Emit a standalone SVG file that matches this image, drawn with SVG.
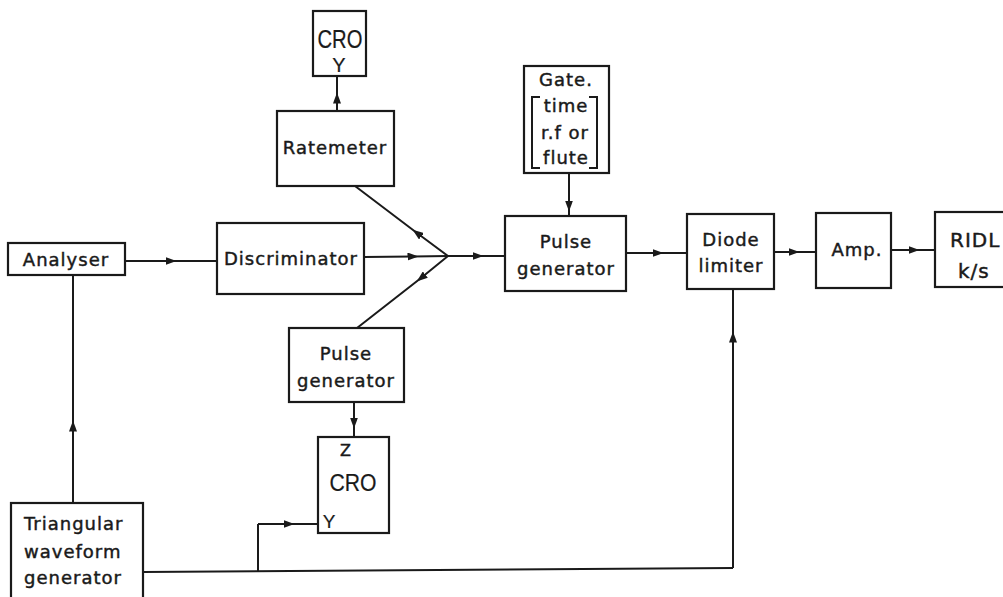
<svg xmlns="http://www.w3.org/2000/svg" width="1003" height="597" viewBox="0 0 1003 597">
<defs>
<marker id="ah" viewBox="0 0 11 8" refX="5.5" refY="4" markerWidth="11" markerHeight="8" markerUnits="userSpaceOnUse" orient="auto">
<path d="M0,0 L11,4 L0,8 z" fill="#1a1a1a"/>
</marker>
<style>
rect.b{fill:none;stroke:#1a1a1a;stroke-width:2.2}
text{font-family:"DejaVu Sans",sans-serif;font-size:18px;fill:#1a1a1a;stroke:#1a1a1a;stroke-width:0.45;text-anchor:middle;letter-spacing:1px}
text.g{font-family:"Liberation Sans",Arial,sans-serif;letter-spacing:0;stroke-width:0.2}
.c path{fill:none;stroke:#1a1a1a;stroke-width:2}
.c path.a{marker-mid:url(#ah)}
.br{fill:none;stroke:#1a1a1a;stroke-width:2}
</style>
</defs>
<rect width="1003" height="597" fill="#fff"/>

<g class="c" id="connectors">
<path class="a" d="M125 261 L171 261 L217 261"/>
<path class="a" d="M364 257 L413 256.5 L448 256"/>
<path class="a" d="M448 256 L478 256 L505 256"/>
<path class="a" d="M448 256 L417 233 L355 186"/>
<path class="a" d="M448 256 L421 278 L357 328"/>
<path class="a" d="M337 111 L337 98 L337 76"/>
<path class="a" d="M354 402 L354 423 L354 437"/>
<path class="a" d="M569 173 L569 206 L569 216"/>
<path class="a" d="M626 253 L658 253 L687 253"/>
<path class="a" d="M774 252 L794 252 L816 252"/>
<path class="a" d="M891 250 L914 250 L935 250"/>
<path class="a" d="M73 503 L73 426 L73 275"/>
<path d="M143 572 L733 568"/>
<path d="M258 571.5 L258 524"/>
<path class="a" d="M258 524 L289 524 L318 524"/>
<path class="a" d="M733 568 L733 337 L733 289"/>
</g>

<g id="cro-top">
<rect class="b" x="313" y="11" width="53" height="65"/>
<text class="g" x="340" y="48" style="font-size:25px" textLength="45" lengthAdjust="spacingAndGlyphs">CRO</text>
<text class="g" x="339" y="72" style="font-size:20px">Y</text>
</g>

<g id="ratemeter">
<rect class="b" x="277" y="111" width="117" height="75"/>
<text x="335" y="154">Ratemeter</text>
</g>

<g id="gate">
<rect class="b" x="524" y="66" width="85" height="107"/>
<text x="566" y="86">Gate.</text>
<path class="br" d="M540 97 H532 V168 H540 M589 97 H597 V168 H589"/>
<text x="566" y="112">time</text>
<text x="565" y="139">r.f or</text>
<text x="566" y="164">flute</text>
</g>

<g id="analyser">
<rect class="b" x="8" y="243" width="117" height="32"/>
<text x="66" y="266">Analyser</text>
</g>

<g id="discriminator">
<rect class="b" x="217" y="223" width="147" height="71"/>
<text x="291" y="265">Discriminator</text>
</g>

<g id="pulse-gen-main">
<rect class="b" x="505" y="216" width="121" height="75"/>
<text x="566" y="248">Pulse</text>
<text x="566" y="275">generator</text>
</g>

<g id="diode">
<rect class="b" x="687" y="214" width="87" height="75"/>
<text x="731" y="246">Diode</text>
<text x="731" y="272">limiter</text>
</g>

<g id="amp">
<rect class="b" x="816" y="213" width="75" height="75"/>
<text x="857" y="256">Amp.</text>
</g>

<g id="ridl">
<rect class="b" x="935" y="212" width="80" height="75"/>
<text x="950" y="247" style="text-anchor:start;font-size:20px;letter-spacing:1px">RIDL</text>
<text x="958" y="278" style="text-anchor:start;font-size:20px">k/s</text>
</g>

<g id="pulse-gen-lower">
<rect class="b" x="289" y="328" width="115" height="74"/>
<text x="346" y="360">Pulse</text>
<text x="346" y="387">generator</text>
</g>

<g id="cro-lower">
<rect class="b" x="318" y="437" width="71" height="96"/>
<text x="346" y="456" style="font-size:16px">Z</text>
<text class="g" x="353" y="491" style="font-size:24px" textLength="47" lengthAdjust="spacingAndGlyphs">CRO</text>
<text class="g" x="329" y="528" style="font-size:19px">Y</text>
</g>

<g id="triangular">
<rect class="b" x="11" y="503" width="132" height="100"/>
<text x="24" y="530" style="text-anchor:start">Triangular</text>
<text x="24" y="558" style="text-anchor:start">waveform</text>
<text x="24" y="584" style="text-anchor:start">generator</text>
</g>
</svg>
